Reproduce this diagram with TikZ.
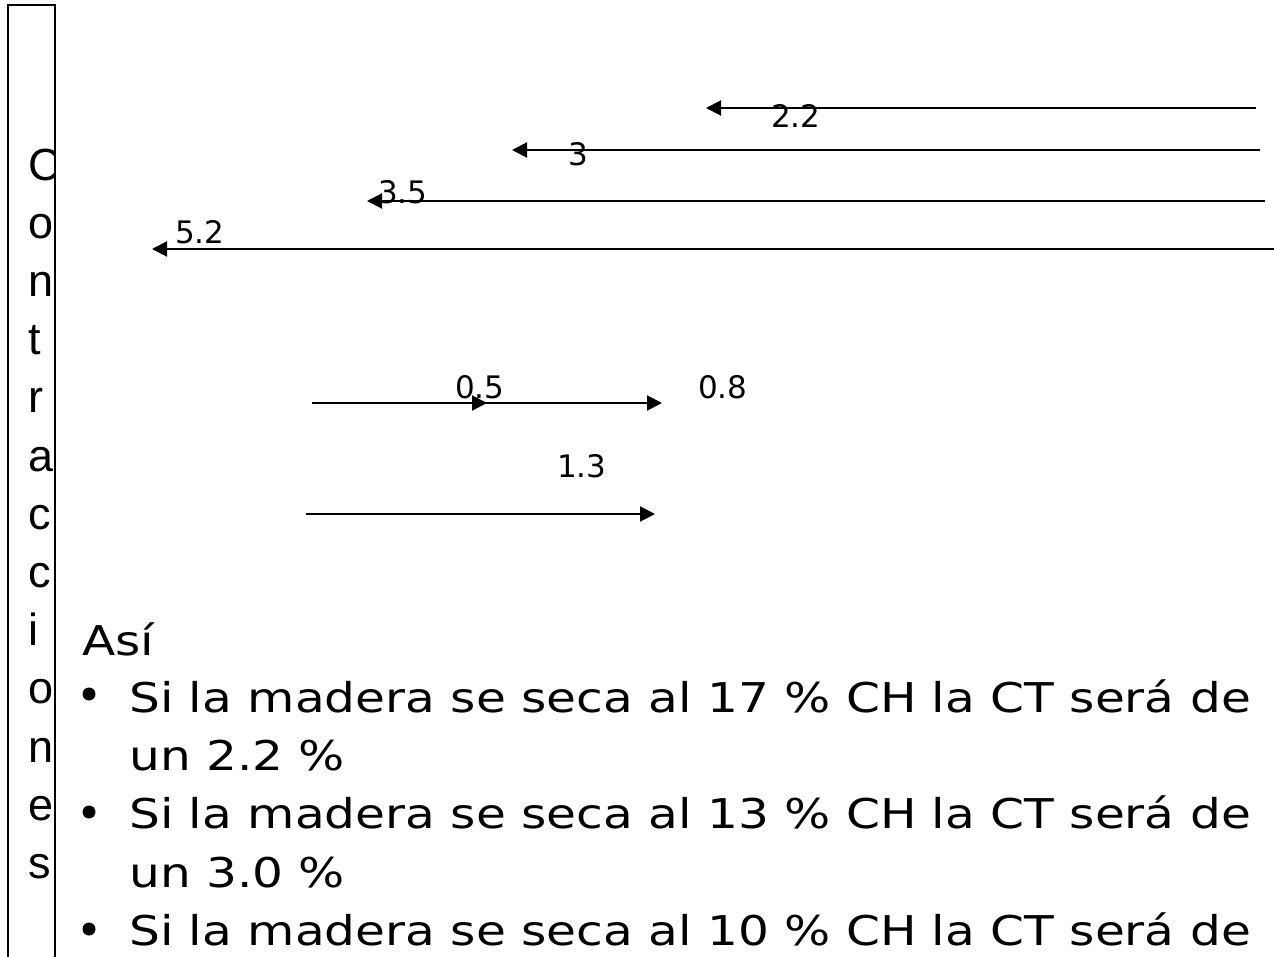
\documentclass[tikz,border=0pt]{standalone}
\usepackage{fontspec}
\setmainfont{DejaVu Sans}
\newfontfamily\bodyfont[FakeStretch=1.185]{DejaVu Sans}
\newfontfamily\labfont{DejaVu Sans}
\newfontfamily\colfont{Liberation Sans}
\usetikzlibrary{arrows.meta}
\tikzset{
  arr/.style={line width=2.1pt, -{Triangle[length=15pt,width=15pt]}},
  lab/.style={inner sep=0pt, anchor=base west, font=\labfont\fontsize{31}{31}\selectfont},
  colletter/.style={inner sep=0pt, anchor=base west, font=\colfont\fontsize{45}{45}\selectfont},
  bodytext/.style={inner sep=0pt, anchor=base west, font=\bodyfont\fontsize{41}{41}\selectfont},
  bulletdot/.style={circle, fill=black, inner sep=0pt, minimum size=13pt},
  frame/.style={line width=2.4pt}
}
\begin{document}
\begin{tikzpicture}[x=1pt,y=-1pt]
\useasboundingbox (0,0) rectangle (1274,956);
% frame of the vertical title box
\coordinate (fbl) at (8,960);
\coordinate (ftl) at (8,5);
\coordinate (ftr) at (55,5);
\coordinate (fbr) at (55,960);
\draw[frame] (fbl) -- (ftl) -- (ftr) -- (fbr);
% vertical letters, clipped by the box
\begin{scope}
\clip (9,0) rectangle (55,956);
\foreach \ch [count=\k from 0] in {C,o,n,t,r,a,c,c,i,o,n,e,s} {
  \node[colletter] (v\k) at (28.5,{180+58.2*\k}) {\ch};
}
\end{scope}
% leftward arrows
\coordinate (a1s) at (1256,108); \coordinate (a1e) at (706,108);
\coordinate (a2s) at (1260,150); \coordinate (a2e) at (512,150);
\coordinate (a3s) at (1265,201); \coordinate (a3e) at (367,201);
\coordinate (a4s) at (1274,249); \coordinate (a4e) at (152,249);
\draw[arr] (a1s) -- (a1e);
\draw[arr] (a2s) -- (a2e);
\draw[arr] (a3s) -- (a3e);
\draw[arr] (a4s) -- (a4e);
\node[lab] (l22) at (771,127) {2.2};
\node[lab] (l3) at (568,165) {3};
\node[lab] (l35) at (378,203) {3.5};
\node[lab] (l52) at (175,243) {5.2};
% rightward arrows
\coordinate (b1s) at (312,403); \coordinate (b1m) at (487,403); \coordinate (b1e) at (662,403);
\coordinate (b2s) at (306,514); \coordinate (b2e) at (655,514);
\draw[arr] (b1s) -- (b1e);
\draw[arr] (b1s) -- (b1m);
\draw[arr] (b2s) -- (b2e);
\node[lab] (l05) at (455,398) {0.5};
\node[lab] (l08) at (698,398) {0.8};
\node[lab] (l13) at (557,477) {1.3};
% body text
\node[bodytext] (asi) at (82,655) {Así};
\node[bulletdot] (d1) at (89,694) {};
\node[bulletdot] (d2) at (89,812) {};
\node[bulletdot] (d3) at (89,929) {};
\node[bodytext] (t1) at (129,712) {Si la madera se seca al 17 \% CH la CT será de};
\node[bodytext] (t2) at (129,770) {un 2.2 \%};
\node[bodytext] (t3) at (129,828.5) {Si la madera se seca al 13 \% CH la CT será de};
\node[bodytext] (t4) at (129,887) {un 3.0 \%};
\node[bodytext] (t5) at (129,945) {Si la madera se seca al 10 \% CH la CT será de};
\end{tikzpicture}
\end{document}
